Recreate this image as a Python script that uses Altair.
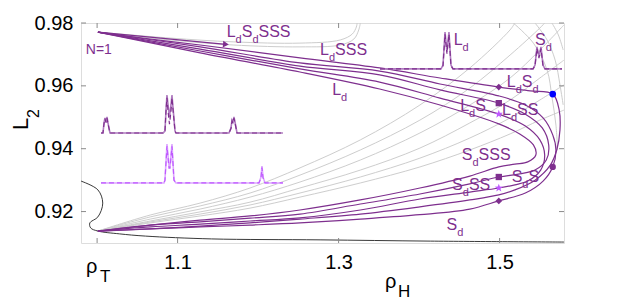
import altair as alt
import pandas as pd

W, H = 483, 220
X_DOM = [0.98, 1.58]
Y_DOM = [0.910, 0.980]
PX_PER_X = W / (X_DOM[1] - X_DOM[0])
PURPLE = "#7E2F8E"
PURPLE_LIGHT = "#B07CC0"
VIOLET = "#BF59FF"
VIOLET_LIGHT = "#DDA8FF"
GRAY = "#CDCDCD"
FRAME = "#8A8A8A"
FONT = "Liberation Sans"

X_TICKS = [1.0, 1.1, 1.3, 1.5]
Y_TICKS = [0.92, 0.94, 0.96, 0.98]

# ---------------- purple branches ----------------
p1_x = [1.001, 1.066, 1.128, 1.252, 1.351, 1.426, 1.499, 1.538, 1.566, 1.574, 1.575, 1.571, 1.563, 1.544, 1.519, 1.499, 1.463, 1.401, 1.327, 1.252, 1.190, 1.128, 1.066, 1.001]
p1_y = [0.9771, 0.9749, 0.9730, 0.9689, 0.9657, 0.9625, 0.9596, 0.9584, 0.9574, 0.9523, 0.9460, 0.9396, 0.9348, 0.9300, 0.9269, 0.9253, 0.9237, 0.9215, 0.9192, 0.9176, 0.9164, 0.9154, 0.9145, 0.9138]

ca_x = [1.001, 1.128, 1.252, 1.351, 1.426, 1.499, 1.532, 1.554, 1.566, 1.570, 1.566, 1.554, 1.532, 1.499, 1.463, 1.401, 1.327, 1.252, 1.190, 1.128, 1.066, 1.001]
ca_y = [0.9771, 0.9724, 0.9673, 0.9647, 0.9606, 0.9568, 0.9539, 0.9498, 0.9444, 0.9396, 0.9342, 0.9297, 0.9259, 0.9234, 0.9208, 0.9190, 0.9176, 0.9164, 0.9157, 0.9151, 0.9145, 0.9138]

cb_x = [1.001, 1.128, 1.252, 1.351, 1.426, 1.499, 1.532, 1.553, 1.561, 1.558, 1.544, 1.525, 1.499, 1.463, 1.401, 1.327, 1.252, 1.190, 1.128, 1.066, 1.001]
cb_y = [0.9771, 0.9717, 0.9663, 0.9635, 0.9587, 0.9545, 0.9510, 0.9466, 0.9412, 0.9364, 0.9332, 0.9320, 0.9310, 0.9288, 0.9256, 0.9224, 0.9192, 0.9179, 0.9167, 0.9157, 0.9138]

cc_x = [1.001, 1.128, 1.252, 1.351, 1.426, 1.499, 1.532, 1.550, 1.556, 1.551, 1.535, 1.519, 1.499, 1.463, 1.401, 1.327, 1.252, 1.190, 1.128, 1.066, 1.001]
cc_y = [0.9771, 0.9711, 0.9654, 0.9612, 0.9561, 0.9510, 0.9472, 0.9428, 0.9380, 0.9332, 0.9297, 0.9285, 0.9275, 0.9262, 0.9240, 0.9205, 0.9180, 0.9170, 0.9160, 0.9151, 0.9138]

cd_x = [1.001, 1.128, 1.252, 1.351, 1.426, 1.499, 1.525, 1.542, 1.545, 1.535, 1.519, 1.499, 1.463, 1.401, 1.327, 1.252, 1.190, 1.128, 1.066, 1.001]
cd_y = [0.9771, 0.9705, 0.9644, 0.9590, 0.9539, 0.9479, 0.9447, 0.9412, 0.9380, 0.9358, 0.9351, 0.9342, 0.9313, 0.9275, 0.9237, 0.9205, 0.9186, 0.9173, 0.9157, 0.9138]

arrow_x = [1.001, 1.160]
arrow_y = [0.9771, 0.9732]

# ---------------- gray branches ----------------
g_px = [1.001, 1.066, 1.128, 1.190, 1.252, 1.327, 1.401, 1.463, 1.513, 1.550]
g1_x = g_px[:9] + [1.519]
g1_y = [0.9138, 0.9189, 0.9227, 0.9275, 0.9339, 0.9428, 0.9539, 0.9657, 0.9778, 0.9800]
g2_x = g_px + [1.556]
g2_y = [0.9138, 0.9183, 0.9218, 0.9259, 0.9316, 0.9396, 0.9491, 0.9593, 0.9698, 0.9784, 0.9800]
g3_x = g_px + [1.580]
g3_y = [0.9138, 0.9176, 0.9208, 0.9246, 0.9294, 0.9364, 0.9450, 0.9539, 0.9625, 0.9714, 0.9794]
g4_x = g_px + [1.580]
g4_y = [0.9138, 0.9170, 0.9199, 0.9230, 0.9275, 0.9332, 0.9402, 0.9482, 0.9555, 0.9625, 0.9682]
g5_x = g_px + [1.580]
g5_y = [0.9138, 0.9167, 0.9192, 0.9221, 0.9259, 0.9310, 0.9370, 0.9434, 0.9498, 0.9555, 0.9603]
g6_x = g_px + [1.580]
g6_y = [0.9138, 0.9164, 0.9186, 0.9211, 0.9246, 0.9291, 0.9342, 0.9396, 0.9447, 0.9491, 0.9523]

d1_x = [1.517, 1.542, 1.559, 1.565, 1.570, 1.572]
d1_y = [0.9800, 0.9736, 0.9650, 0.9565, 0.9475, 0.9396]
d2_x = [1.544, 1.559, 1.569, 1.575, 1.579]
d2_y = [0.9800, 0.9746, 0.9682, 0.9603, 0.9539]
d3_x = [1.565, 1.573, 1.579]
d3_y = [0.9800, 0.9762, 0.9714]

top1_x = [1.001, 1.091, 1.169, 1.252, 1.302, 1.319, 1.325, 1.327]
top1_y = [0.9771, 0.9746, 0.9730, 0.9724, 0.9730, 0.9749, 0.9778, 0.9800]
top2_x = [1.001, 1.091, 1.169, 1.252, 1.302, 1.317, 1.322, 1.323]
top2_y = [0.9771, 0.9752, 0.9740, 0.9736, 0.9746, 0.9765, 0.9787, 0.9800]

# ---------------- black branch ----------------
blk_x = [0.980, 1.001, 1.007, 1.001, 0.991, 0.992, 1.001, 1.028, 1.060, 1.142, 1.277, 1.414, 1.580]
blk_y = [0.9297, 0.9269, 0.9227, 0.9183, 0.9164, 0.9148, 0.9138, 0.9129, 0.9122, 0.9113, 0.9110, 0.9106, 0.9103]

# ---------------- inset profiles ----------------
pr1_x = [1.0048, 1.0073, 1.0086, 1.0098, 1.0111, 1.0123, 1.0135, 1.0160,
         1.0819, 1.0843, 1.0856, 1.0868, 1.0881, 1.0899, 1.0918, 1.0930, 1.0943, 1.0968, 1.0980,
         1.1638, 1.1663, 1.1676, 1.1688, 1.1700, 1.1713, 1.1738, 1.2309]
pr1_y = [0.9450, 0.9450, 0.9482, 0.9498, 0.9485, 0.9501, 0.9482, 0.9450,
         0.9450, 0.9456, 0.9523, 0.9571, 0.9540, 0.9501, 0.9540, 0.9571, 0.9530, 0.9456, 0.9450,
         0.9450, 0.9466, 0.9491, 0.9485, 0.9501, 0.9485, 0.9450, 0.9450]
pr1d_y = [0.9450, 0.9450, 0.9480, 0.9495, 0.9483, 0.9497, 0.9480, 0.9450,
          0.9450, 0.9456, 0.9520, 0.9562, 0.9520, 0.9478, 0.9520, 0.9562, 0.9525, 0.9456, 0.9450,
          0.9450, 0.9464, 0.9488, 0.9482, 0.9497, 0.9482, 0.9450, 0.9450]

pr2_x = [1.0048, 1.0831, 1.0843, 1.0868, 1.0893, 1.0906, 1.0930, 1.0955, 1.0980, 1.2011, 1.2036, 1.2048, 1.2061, 1.2086, 1.2309]
pr2_y = [0.9291, 0.9291, 0.9300, 0.9415, 0.9345, 0.9345, 0.9415, 0.9300, 0.9291, 0.9291, 0.9310, 0.9345, 0.9310, 0.9291, 0.9291]
pr2d_y = [0.9291, 0.9291, 0.9300, 0.9408, 0.9338, 0.9338, 0.9408, 0.9300, 0.9291, 0.9291, 0.9308, 0.9340, 0.9308, 0.9291, 0.9291]

pr3_x = [1.3514, 1.4272, 1.4297, 1.4322, 1.4346, 1.4371, 1.4396, 1.4421, 1.5415, 1.5440, 1.5464, 1.5489, 1.5514, 1.5539, 1.5564, 1.5775]
pr3_y = [0.9654, 0.9654, 0.9666, 0.9771, 0.9708, 0.9771, 0.9666, 0.9654, 0.9654, 0.9666, 0.9724, 0.9692, 0.9724, 0.9666, 0.9654, 0.9654]
pr3d_y = [0.9654, 0.9654, 0.9664, 0.9764, 0.9702, 0.9764, 0.9664, 0.9654, 0.9654, 0.9664, 0.9719, 0.9688, 0.9719, 0.9664, 0.9654, 0.9654]

# ---------------- markers ----------------
marker_x = [1.499, 1.566, 1.499, 1.499, 1.566, 1.499, 1.499, 1.499]
marker_y = [0.9596, 0.9574, 0.9545, 0.9510, 0.9342, 0.9310, 0.9275, 0.9234]
marker_kind = ["diamond", "blue", "square", "star", "circle", "square", "star", "diamond"]

# ---------------- labels ----------------
label_text = ["L_dS_dSSS", "L_dSSS", "L_d", "L_d", "S_d", "L_dS_d", "L_dS", "L_dSS", "S_dSSS", "S_dSS", "S_dS", "S_d", "N=1"]
label_x = [1.161, 1.277, 1.292, 1.443, 1.544, 1.509, 1.451, 1.503, 1.453, 1.441, 1.515, 1.434, 0.986]
label_y = [0.9755, 0.9698, 0.9571, 0.9730, 0.9730, 0.9596, 0.9520, 0.9507, 0.9364, 0.9269, 0.9294, 0.9141, 0.9701]
label_fs = [16, 16, 16, 16, 16, 16, 16, 16, 16, 16, 16, 16, 14]


def path_df(name, xs, ys):
    return pd.DataFrame({"curve": name, "i": list(range(len(xs))), "x": xs, "y": ys})


purple_df = pd.concat([path_df("P1", p1_x, p1_y), path_df("Ca", ca_x, ca_y), path_df("Cb", cb_x, cb_y),
                       path_df("Cc", cc_x, cc_y), path_df("Cd", cd_x, cd_y)])
gray_df = pd.concat([path_df("g1", g1_x, g1_y), path_df("g2", g2_x, g2_y), path_df("g3", g3_x, g3_y),
                     path_df("g4", g4_x, g4_y), path_df("g5", g5_x, g5_y), path_df("g6", g6_x, g6_y),
                     path_df("d1", d1_x, d1_y), path_df("d2", d2_x, d2_y), path_df("d3", d3_x, d3_y),
                     path_df("t1", top1_x, top1_y), path_df("t2", top2_x, top2_y)])
black_df = path_df("blk", blk_x, blk_y)
arrow_df = path_df("arr", arrow_x, arrow_y)

prof_solid = pd.concat([path_df("a", pr1_x, pr1_y).assign(c=PURPLE_LIGHT),
                        path_df("b", pr2_x, pr2_y).assign(c=VIOLET_LIGHT),
                        path_df("c", pr3_x, pr3_y).assign(c=PURPLE_LIGHT)])
prof_dash = pd.concat([path_df("a", pr1_x, pr1d_y).assign(c=PURPLE),
                       path_df("b", pr2_x, pr2d_y).assign(c=VIOLET),
                       path_df("c", pr3_x, pr3d_y).assign(c=PURPLE)])

STAR = "M0,-1L0.235,-0.324L0.951,-0.309L0.38,0.124L0.588,0.809L0,0.4L-0.588,0.809L-0.38,0.124L-0.951,-0.309L-0.235,-0.324Z"
kind_style = {
    "diamond": ("diamond", PURPLE, 45),
    "blue": ("circle", "#0000FF", 45),
    "square": ("square", PURPLE, 40),
    "star": (STAR, VIOLET, 75),
    "circle": ("circle", PURPLE, 40),
}
marker_df = pd.DataFrame({
    "x": marker_x, "y": marker_y,
    "shape": [kind_style[k][0] for k in marker_kind],
    "color": [kind_style[k][1] for k in marker_kind],
    "size": [kind_style[k][2] for k in marker_kind],
})

WIDTHS = {"L": 0.556, "S": 0.667, "N": 0.722, "=": 0.584, "1": 0.556, "d": 0.556}
main_rows, sub_rows = [], []
for t, x0, y0, fs in zip(label_text, label_x, label_y, label_fs):
    off = 0.0
    k = 0
    fsub = round(fs * 0.7)
    while k < len(t):
        if t[k] == "_":
            ch = t[k + 1]
            sub_rows.append({"x": x0 + off / PX_PER_X, "y": y0, "t": ch, "fs": fsub})
            off += WIDTHS[ch] * fsub
            k += 2
        else:
            main_rows.append({"x": x0 + off / PX_PER_X, "y": y0, "t": t[k], "fs": fs})
            off += WIDTHS[t[k]] * fs
            k += 1
main_df = pd.DataFrame(main_rows)
sub_df = pd.DataFrame(sub_rows)

xsc = alt.Scale(domain=X_DOM, nice=False, zero=False)
ysc = alt.Scale(domain=Y_DOM, nice=False, zero=False)
x_axis = alt.Axis(values=X_TICKS, labelExpr="datum.value < 1.05 ? '' : format(datum.value, '.1f')",
                  ticks=False, domain=False, grid=False, labelFontSize=20, labelFont=FONT,
                  labelColor="black", labelPadding=9, title=None, labelFlush=False)
y_axis = alt.Axis(values=Y_TICKS, format=".2f", ticks=False, domain=False, grid=False,
                  labelFontSize=20, labelFont=FONT, labelColor="black", labelPadding=8, title=None)
X = alt.X("x:Q", scale=xsc, axis=x_axis)
Y = alt.Y("y:Q", scale=ysc, axis=y_axis)

gray_layer = alt.Chart(gray_df).mark_line(interpolate="catmull-rom", color=GRAY, strokeWidth=1, clip=True).encode(
    x=X, y=Y, detail="curve:N", order="i:Q")
black_layer = alt.Chart(black_df).mark_line(interpolate="catmull-rom", color="#222222", strokeWidth=0.9, clip=True).encode(
    x=X, y=Y, order="i:Q")
purple_layer = alt.Chart(purple_df).mark_line(interpolate="catmull-rom", color=PURPLE, strokeWidth=1.2, clip=True).encode(
    x=X, y=Y, detail="curve:N", order="i:Q")
arrow_layer = alt.Chart(arrow_df).mark_line(color=PURPLE, strokeWidth=1.2).encode(x=X, y=Y, order="i:Q")
arrow_head = alt.Chart(arrow_df.tail(1)).mark_point(shape="triangle-right", filled=True, size=45,
                                                    color=PURPLE, opacity=1, angle=5).encode(x=X, y=Y)

solid_layer = alt.Chart(prof_solid).mark_line(strokeWidth=1.6).encode(
    x=X, y=Y, detail="curve:N", order="i:Q", color=alt.Color("c:N", scale=None))
dash_layer = alt.Chart(prof_dash).mark_line(strokeWidth=1.2, strokeDash=[5, 3]).encode(
    x=X, y=Y, detail="curve:N", order="i:Q", color=alt.Color("c:N", scale=None))

marker_layer = alt.Chart(marker_df).mark_point(filled=True, opacity=1).encode(
    x=X, y=Y, shape=alt.Shape("shape:N", scale=None), color=alt.Color("color:N", scale=None),
    size=alt.Size("size:Q", scale=None))

text_main = alt.Chart(main_df).mark_text(align="left", baseline="alphabetic", font=FONT, color=PURPLE).encode(
    x=X, y=Y, text="t:N", size=alt.Size("fs:Q", scale=None))
text_sub = alt.Chart(sub_df).mark_text(align="left", baseline="alphabetic", font=FONT, color=PURPLE, dy=6).encode(
    x=X, y=Y, text="t:N", size=alt.Size("fs:Q", scale=None))

xt_df = pd.DataFrame({"x": X_TICKS})
yt_df = pd.DataFrame({"y": Y_TICKS})
tick_b = alt.Chart(xt_df).mark_rule(color=FRAME).encode(x=X, y=alt.value(H), y2=alt.value(H - 5))
tick_t = alt.Chart(xt_df).mark_rule(color=FRAME).encode(x=X, y=alt.value(0), y2=alt.value(5))
tick_l = alt.Chart(yt_df).mark_rule(color=FRAME).encode(y=Y, x=alt.value(0), x2=alt.value(5))
tick_r = alt.Chart(yt_df).mark_rule(color=FRAME).encode(y=Y, x=alt.value(W), x2=alt.value(W - 5))

rho_df = pd.DataFrame({"x": [1.0]})
rhoT = alt.Chart(rho_df).mark_text(text="ρ", fontSize=20, font=FONT, align="left", baseline="alphabetic",
                                   dx=-11, color="black").encode(x=X, y=alt.value(250))
rhoT_sub = alt.Chart(rho_df).mark_text(text="T", fontSize=17, font=FONT, align="left", baseline="alphabetic",
                                       dx=3, color="black").encode(x=X, y=alt.value(259))

one = pd.DataFrame({"a": [0]})
rhoH = alt.Chart(one).mark_text(text="ρ", fontSize=20, font=FONT, align="left", baseline="alphabetic",
                                color="black").encode(x=alt.value(304), y=alt.value(265))
rhoH_sub = alt.Chart(one).mark_text(text="H", fontSize=17, font=FONT, align="left", baseline="alphabetic",
                                    color="black").encode(x=alt.value(317), y=alt.value(274))
ytitle = alt.Chart(one).mark_text(text="L", fontSize=22, font=FONT, align="left", baseline="alphabetic",
                                  angle=270, color="black").encode(x=alt.value(-53), y=alt.value(107))
ytitle_sub = alt.Chart(one).mark_text(text="2", fontSize=16, font=FONT, align="left", baseline="alphabetic",
                                      angle=270, color="black").encode(x=alt.value(-42), y=alt.value(95))

chart = alt.layer(
    gray_layer, black_layer, purple_layer, arrow_layer, arrow_head,
    solid_layer, dash_layer, marker_layer, text_main, text_sub,
    tick_b, tick_t, tick_l, tick_r, rhoT, rhoT_sub, rhoH, rhoH_sub, ytitle, ytitle_sub
).properties(
    width=W, height=H,
    padding={"left": 73, "top": 15, "right": 51, "bottom": 58},
    autosize=alt.AutoSizeParams(type="none"),
).configure_view(stroke=FRAME, strokeWidth=1).configure(background="white")

chart.save("out.html", embed_options={"renderer": "svg", "actions": False})
